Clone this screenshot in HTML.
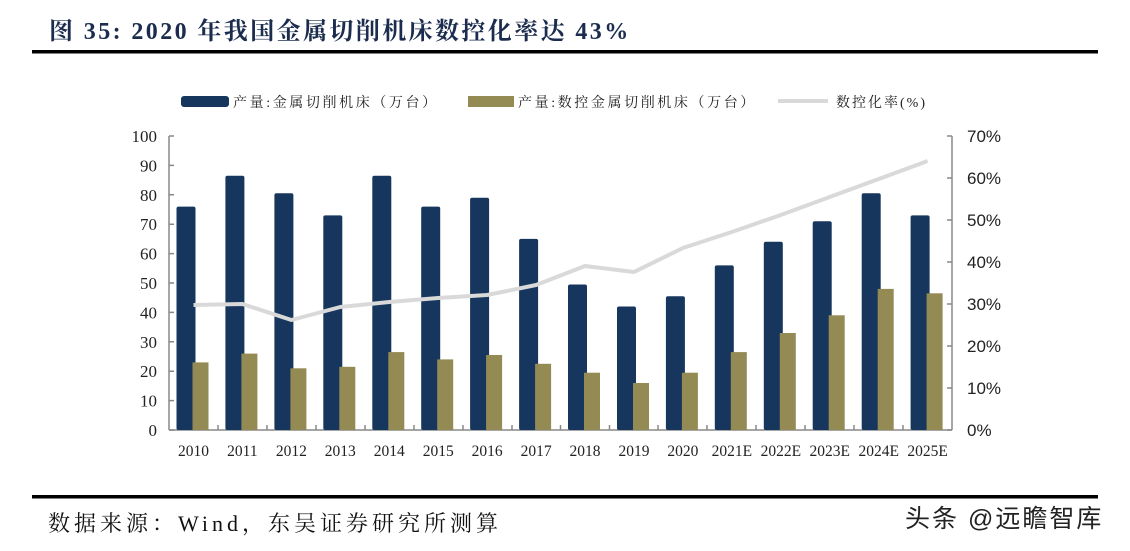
<!DOCTYPE html>
<html><head><meta charset="utf-8"><style>
html,body{margin:0;padding:0;background:#fff;}
body{width:1130px;height:546px;overflow:hidden;}
</style></head><body>
<svg width="1130" height="546" xmlns="http://www.w3.org/2000/svg">
<text x="49" y="39" font-family="Liberation Serif, Noto Serif CJK SC, serif" font-size="24" font-weight="bold" fill="#1b2c4e" letter-spacing="2.4">图 35:  2020 年我国金属切削机床数控化率达 43%</text>
<rect x="32" y="50" width="1066" height="3.5" fill="#000"/>
<rect x="32" y="495" width="1066" height="3.5" fill="#000"/>
<text x="48" y="531" font-family="Liberation Serif, Noto Serif CJK SC, serif" font-size="22" fill="#111" letter-spacing="4">数据来源：Wind，东吴证券研究所测算</text>
<text x="905" y="527" font-family="Liberation Sans, Noto Sans CJK SC, sans-serif" font-size="25" fill="#222" letter-spacing="2">头条 @远瞻智库</text>
<!-- legend -->
<rect x="181" y="96" width="48" height="11" rx="3" fill="#17365d"/>
<text x="233" y="107" font-family="Liberation Serif, Noto Serif CJK SC, serif" font-size="14" fill="#222" letter-spacing="2.6">产量:金属切削机床（万台）</text>
<rect x="468" y="96" width="46" height="11" fill="#948a54"/>
<text x="518" y="107" font-family="Liberation Serif, Noto Serif CJK SC, serif" font-size="14" fill="#222" letter-spacing="2.6">产量:数控金属切削机床（万台）</text>
<rect x="778" y="99" width="50" height="4" fill="#d9d9d9"/>
<text x="836" y="107" font-family="Liberation Serif, Noto Serif CJK SC, serif" font-size="14" fill="#222" letter-spacing="2">数控化率(%)</text>
<!-- axes -->
<g stroke="#888" stroke-width="1.5" fill="none">
<line x1="169" y1="136" x2="169" y2="430"/>
<line x1="952" y1="136" x2="952" y2="430"/>
<line x1="169" y1="430" x2="952" y2="430"/>
<path d="M169 430h5M169 400.6h5M169 371.2h5M169 341.8h5M169 312.4h5M169 283h5M169 253.6h5M169 224.2h5M169 194.8h5M169 165.4h5M169 136h5"/>
<path d="M952 430h-5M952 388h-5M952 346h-5M952 304h-5M952 262h-5M952 220h-5M952 178h-5M952 136h-5"/>
<path d="M218 430v-5M267 430v-5M316 430v-5M365 430v-5M414 430v-5M463 430v-5M512 430v-5M560.5 430v-5M609.5 430v-5M658 430v-5M707 430v-5M756 430v-5M805 430v-5M854 430v-5M903 430v-5"/>
</g>
<g font-family="Liberation Serif, serif" font-size="17" fill="#222" text-anchor="end">
<text x="157" y="436">0</text><text x="157" y="406.6">10</text><text x="157" y="377.2">20</text><text x="157" y="347.8">30</text><text x="157" y="318.4">40</text><text x="157" y="289">50</text><text x="157" y="259.6">60</text><text x="157" y="230.2">70</text><text x="157" y="200.8">80</text><text x="157" y="171.4">90</text><text x="157" y="142">100</text>
</g>
<g font-family="Liberation Sans, sans-serif" font-size="17" fill="#222">
<text x="967" y="436">0%</text><text x="967" y="394">10%</text><text x="967" y="352">20%</text><text x="967" y="310">30%</text><text x="967" y="268">40%</text><text x="967" y="226">50%</text><text x="967" y="184">60%</text><text x="967" y="142">70%</text>
</g>
<g font-family="Liberation Serif, serif" font-size="15.5" fill="#222" text-anchor="middle">
<text x="193.5" y="456">2010</text><text x="242.4" y="456">2011</text><text x="291.4" y="456">2012</text><text x="340.3" y="456">2013</text><text x="389.3" y="456">2014</text><text x="438.2" y="456">2015</text><text x="487.1" y="456">2016</text><text x="536.1" y="456">2017</text><text x="585" y="456">2018</text><text x="634" y="456">2019</text><text x="682.9" y="456">2020</text><text x="731.8" y="456">2021E</text><text x="780.8" y="456">2022E</text><text x="829.7" y="456">2023E</text><text x="878.7" y="456">2024E</text><text x="927.6" y="456">2025E</text>
</g>
<g fill="#17365d">
<rect x="176.5" y="206.6" width="19" height="223.4" rx="2"/>
<rect x="225.4" y="175.7" width="19" height="254.3" rx="2"/>
<rect x="274.4" y="193.3" width="19" height="236.7" rx="2"/>
<rect x="323.3" y="215.4" width="19" height="214.6" rx="2"/>
<rect x="372.3" y="175.7" width="19" height="254.3" rx="2"/>
<rect x="421.2" y="206.6" width="19" height="223.4" rx="2"/>
<rect x="470.1" y="197.7" width="19" height="232.3" rx="2"/>
<rect x="519.1" y="238.9" width="19" height="191.1" rx="2"/>
<rect x="568" y="284.5" width="19" height="145.5" rx="2"/>
<rect x="617" y="306.5" width="19" height="123.5" rx="2"/>
<rect x="665.9" y="296.2" width="19" height="133.8" rx="2"/>
<rect x="714.8" y="265.4" width="19" height="164.6" rx="2"/>
<rect x="763.8" y="241.8" width="19" height="188.2" rx="2"/>
<rect x="812.7" y="221.3" width="19" height="208.7" rx="2"/>
<rect x="861.7" y="193.3" width="19" height="236.7" rx="2"/>
<rect x="910.6" y="215.4" width="19" height="214.6" rx="2"/>
</g>
<g fill="#948a54">
<rect x="192.5" y="362.4" width="16" height="67.6"/>
<rect x="241.4" y="353.6" width="16" height="76.4"/>
<rect x="290.4" y="368.3" width="16" height="61.7"/>
<rect x="339.3" y="366.8" width="16" height="63.2"/>
<rect x="388.3" y="352.1" width="16" height="77.9"/>
<rect x="437.2" y="359.4" width="16" height="70.6"/>
<rect x="486.1" y="355" width="16" height="75"/>
<rect x="535.1" y="363.8" width="16" height="66.2"/>
<rect x="584" y="372.7" width="16" height="57.3"/>
<rect x="633" y="383" width="16" height="47"/>
<rect x="681.9" y="372.7" width="16" height="57.3"/>
<rect x="730.8" y="352.1" width="16" height="77.9"/>
<rect x="779.8" y="333" width="16" height="97"/>
<rect x="828.7" y="315.3" width="16" height="114.7"/>
<rect x="877.7" y="288.9" width="16" height="141.1"/>
<rect x="926.6" y="293.3" width="16" height="136.7"/>
</g>
<polyline fill="none" stroke="#d9d9d9" stroke-width="4" stroke-linejoin="round" points="193.5,305 242.4,304 291.4,320 340.3,307 389.3,302 438.2,298 487.1,295 536.1,285 585,266 634,272 682.9,248 731.8,232 780.8,215 829.7,197 878.7,179 927.6,161"/>
</svg>
</body></html>
